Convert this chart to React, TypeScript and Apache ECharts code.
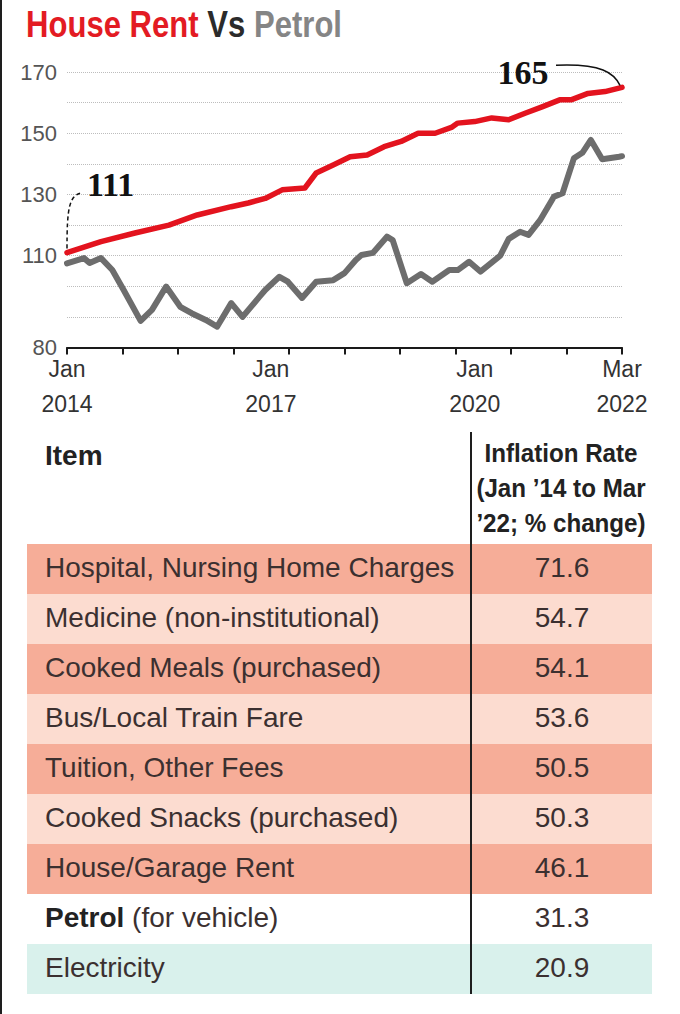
import React, { useEffect, useRef } from 'react';
import * as echarts from 'echarts';

// ---- Chart data (month index: 0 = Jan 2014, 98 = Mar 2022) ----
const rentMonths = [0, 6, 12, 18, 23, 29, 32, 35, 38, 42, 44, 47, 50, 53, 56, 59, 62, 65, 68, 69, 72, 75, 78, 81, 84, 87, 89, 92, 95, 98];
const rentValues = [111, 114.6, 117.4, 120, 123.3, 126, 127.2, 128.7, 131.5, 132.1, 137, 139.6, 142.3, 142.9, 145.6, 147.3, 150, 150, 152, 153.3, 153.8, 155, 154.4, 156.6, 158.7, 160.9, 160.9, 163, 163.6, 165];

const petrolMonths = [0, 3, 4, 6, 8, 10, 13, 15, 17.5, 20, 22, 24.5, 26.5, 29, 31, 34, 35, 37.5, 39, 41.5, 44, 47, 49, 51, 52, 54, 56.5, 57.5, 60, 62.5, 64.5, 67.5, 69, 71, 73, 76.5, 78, 80, 81.5, 83.5, 86, 87.5, 89.5, 91, 92.5, 94.5, 97.5, 98];
const petrolValues = [107.5, 109.2, 107.6, 109.2, 105.3, 98.8, 88.7, 92.3, 99.9, 93.3, 91.2, 89, 86.8, 94.5, 90, 96.6, 98.8, 103.1, 101.5, 96.2, 101.5, 102, 104.3, 108.6, 110.2, 110.9, 116.2, 115.1, 101, 104, 101.5, 105.3, 105.3, 108, 104.8, 110, 115.5, 117.8, 116.8, 121.5, 129.3, 130.4, 141.8, 143.6, 147.8, 141.5, 142.3, 142.5];

const xLabelMonths = [0, 36, 72, 98];
const monthNames = ['Jan', 'Feb', 'Mar', 'Apr', 'May', 'Jun', 'Jul', 'Aug', 'Sep', 'Oct', 'Nov', 'Dec'];
const yLabelValues = [80, 110, 130, 150, 170];

// ---- Table data ----
const headerItem = 'Item';
const headerRate = ['Inflation Rate', '(Jan \u201914 to Mar', '\u201922; % change)'];
const items = [
  'Hospital, Nursing Home Charges',
  'Medicine (non-institutional)',
  'Cooked Meals (purchased)',
  'Bus/Local Train Fare',
  'Tuition, Other Fees',
  'Cooked Snacks (purchased)',
  'House/Garage Rent',
  'Petrol (for vehicle)',
  'Electricity',
];
const rates = [71.6, 54.7, 54.1, 53.6, 50.5, 50.3, 46.1, 31.3, 20.9];
const rowShades = ['dark', 'light', 'dark', 'light', 'dark', 'light', 'dark', 'none', 'teal'];
const boldLeadRow = 7;

const SANS = '"Liberation Sans", Arial, sans-serif';
const SERIF = '"Liberation Serif", "Times New Roman", serif';
const shadeColor: Record<string, string> = {
  dark: '#f6ad98',
  light: '#fcdcd0',
  teal: '#d9f1ec',
  none: 'rgba(0,0,0,0)',
};

export default function App() {
  const ref = useRef<HTMLDivElement>(null);
  useEffect(() => {
    document.body.style.margin = '0';
    const chart = echarts.init(ref.current!, null, { renderer: 'svg' });
    const tickPositions = Array.from({ length: 11 }, (_, i) => i * 9.8);
    chart.setOption({
      animation: false,
      grid: { left: 67, right: 58, top: 72, bottom: 666.5, outerBoundsMode: 'none' },
      xAxis: {
        type: 'value',
        min: 0,
        max: 98,
        axisLine: { show: true, onZero: false, lineStyle: { color: '#1a1a1a', width: 2 } },
        axisTick: { show: true, customValues: tickPositions, length: 7, lineStyle: { color: '#1a1a1a', width: 2 } },
        axisLabel: {
          customValues: xLabelMonths,
          formatter: (v: number) => {
            const m = Math.round(v);
            return monthNames[m % 12] + '\n' + (2014 + Math.floor(m / 12));
          },
          fontSize: 23,
          lineHeight: 35,
          color: '#333',
          fontFamily: SANS,
          margin: 4,
        },
        splitLine: { show: false },
      },
      yAxis: {
        type: 'value',
        min: 80,
        max: 170,
        interval: 10,
        axisLine: { show: false },
        axisTick: { show: false },
        axisLabel: {
          formatter: (v: number) => (yLabelValues.includes(Math.round(v)) ? String(Math.round(v)) : ''),
          fontSize: 22,
          color: '#555',
          fontFamily: SANS,
          margin: 10,
        },
        splitLine: { show: true, lineStyle: { type: 'dotted', color: '#bdbdbd', width: 1 } },
      },
      series: [
        {
          type: 'line',
          name: 'Petrol',
          data: petrolMonths.map((m, i) => [m, petrolValues[i]]),
          symbol: 'none',
          silent: true,
          z: 2,
          lineStyle: { color: '#6d6d6d', width: 6, cap: 'round', join: 'round' },
        },
        {
          type: 'line',
          name: 'House Rent',
          data: rentMonths.map((m, i) => [m, rentValues[i]]),
          symbol: 'none',
          silent: true,
          z: 3,
          lineStyle: { color: '#e3131e', width: 5.5, cap: 'round', join: 'round' },
        },
      ],
    });

    const last = rentMonths.length - 1;
    const p0 = chart.convertToPixel({ gridIndex: 0 }, [rentMonths[0], rentValues[0]]) as number[];
    const p1 = chart.convertToPixel({ gridIndex: 0 }, [rentMonths[last], rentValues[last]]) as number[];

    const elements: any[] = [];
    // left border
    elements.push({ type: 'rect', shape: { x: 0, y: 0, width: 2, height: 1014 }, style: { fill: '#1e1e1e' }, silent: true });
    // title
    elements.push({
      type: 'text',
      x: 26,
      y: 24,
      scaleX: 0.84,
      style: {
        text: '{a|House Rent }{b|Vs }{c|Petrol}',
        align: 'left', textAlign: 'left', verticalAlign: 'middle', textVerticalAlign: 'middle',
        rich: {
          a: { fontFamily: SANS, fontWeight: 'bold', fontSize: 37, fill: '#e31b23', color: '#e31b23' },
          b: { fontFamily: SANS, fontWeight: 'bold', fontSize: 37, fill: '#2b2b2b', color: '#2b2b2b' },
          c: { fontFamily: SANS, fontWeight: 'bold', fontSize: 37, fill: '#858585', color: '#858585' },
        },
      },
    });

    // annotations
    elements.push({
      type: 'bezierCurve',
      shape: { x1: p0[0], y1: p0[1] - 4, cpx1: p0[0], cpy1: p0[1] - 45, cpx2: p0[0] + 2, cpy2: p0[1] - 58, x2: p0[0] + 16, y2: p0[1] - 60 },
      style: { stroke: '#111', lineWidth: 1.5, lineDash: [4, 3], fill: null },
      z: 10,
    });
    elements.push({
      type: 'text',
      x: p0[0] + 20,
      y: p0[1] - 68,
      style: { text: String(rentValues[0]), fontFamily: SERIF, fontWeight: 'bold', fontSize: 34, fill: '#111', align: 'left', textAlign: 'left', verticalAlign: 'middle', textVerticalAlign: 'middle' },
      z: 10,
    });
    elements.push({
      type: 'bezierCurve',
      shape: { x1: p1[0] - 66, y1: p1[1] - 22, cpx1: p1[0] - 20, cpy1: p1[1] - 24, cpx2: p1[0] - 8, cpy2: p1[1] - 14, x2: p1[0] - 2, y2: p1[1] - 2 },
      style: { stroke: '#111', lineWidth: 1.5, fill: null },
      z: 10,
    });
    elements.push({
      type: 'text',
      x: p1[0] - 99,
      y: p1[1] - 15,
      style: { text: String(rentValues[last]), fontFamily: SERIF, fontWeight: 'bold', fontSize: 34, fill: '#111', align: 'center', textAlign: 'center', verticalAlign: 'middle', textVerticalAlign: 'middle' },
      z: 10,
    });

    // table header
    elements.push({
      type: 'text',
      x: 45,
      y: 455,
      style: { text: headerItem, fontFamily: SANS, fontWeight: 'bold', fontSize: 28, fill: '#222', align: 'left', textAlign: 'left', verticalAlign: 'middle', textVerticalAlign: 'middle' },
    });
    headerRate.forEach((t, i) => {
      elements.push({
        type: 'text',
        x: 561,
        y: 453 + i * 35,
        scaleX: 0.93,
        style: { text: t, fontFamily: SANS, fontWeight: 'bold', fontSize: 26, fill: '#222', align: 'center', textAlign: 'center', verticalAlign: 'middle', textVerticalAlign: 'middle' },
      });
    });

    // table rows
    const rowTop = 544;
    const rowH = 50;
    items.forEach((name, i) => {
      const y = rowTop + i * rowH;
      elements.push({ type: 'rect', shape: { x: 27, y, width: 625, height: rowH }, style: { fill: shadeColor[rowShades[i]] }, silent: true });
      let textStyle: any;
      if (i === boldLeadRow) {
        const sp = name.indexOf(' ');
        const lead = name.slice(0, sp);
        const rest = name.slice(sp);
        textStyle = {
          text: '{b|' + lead + '}{r|' + rest + '}',
          rich: {
            b: { fontFamily: SANS, fontWeight: 'bold', fontSize: 28, fill: '#222', color: '#222' },
            r: { fontFamily: SANS, fontSize: 28, fill: '#3b3030', color: '#3b3030' },
          },
        };
      } else {
        textStyle = { text: name, fontFamily: SANS, fontSize: 28, fill: '#3b3030' };
      }
      elements.push({
        type: 'text',
        x: 45,
        y: y + rowH / 2 - 2,
        style: { ...textStyle, align: 'left', textAlign: 'left', verticalAlign: 'middle', textVerticalAlign: 'middle' },
        z: 5,
      });
      elements.push({
        type: 'text',
        x: 562,
        y: y + rowH / 2 - 2,
        style: { text: rates[i].toFixed(1), fontFamily: SANS, fontSize: 28, fill: '#3b3030', align: 'center', textAlign: 'center', verticalAlign: 'middle', textVerticalAlign: 'middle' },
        z: 5,
      });
    });
    // divider
    elements.push({
      type: 'line',
      shape: { x1: 471, y1: 432, x2: 471, y2: rowTop + items.length * rowH },
      style: { stroke: '#1e1e1e', lineWidth: 2 },
      z: 6,
    });

    chart.setOption({ graphic: { elements } });
    return () => chart.dispose();
  }, []);
  return <div ref={ref} style={{ width: 680, height: 1014 }} />;
}
